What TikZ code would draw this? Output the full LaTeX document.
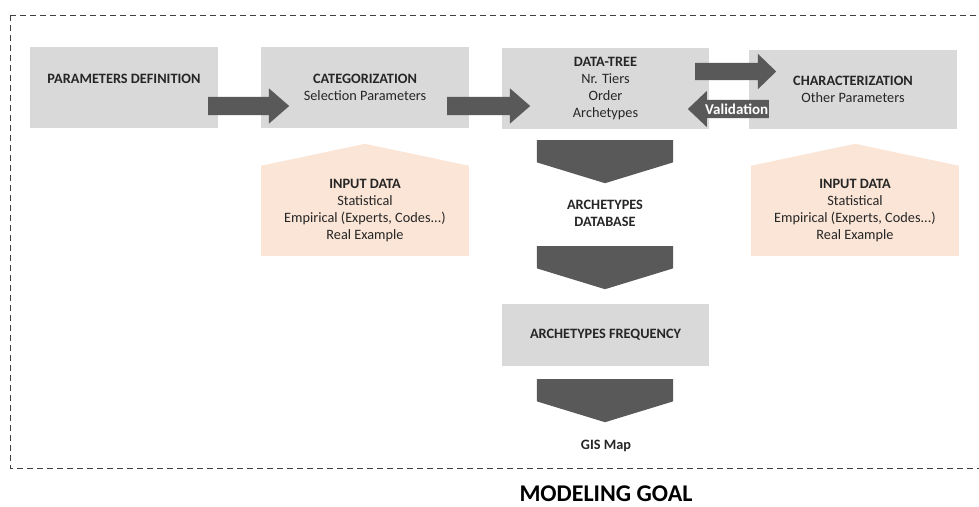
\documentclass[tikz,border=0pt]{standalone}
\usepackage{fontspec}
\setmainfont{Carlito}
\usetikzlibrary{shapes.arrows}
\definecolor{boxGray}{HTML}{D9D9D9}
\definecolor{arrowGray}{HTML}{595959}
\definecolor{inputPeach}{HTML}{FBE5D6}
\definecolor{textDark}{HTML}{262626}
\definecolor{frameGray}{HTML}{404040}

\tikzset{
  graybox/.style={fill=boxGray, align=center, text=textDark, font=\fontsize{14.3}{17}\selectfont, inner sep=0pt},
  inbox/.style={fill=inputPeach, align=center, text=textDark, font=\fontsize{14.3}{17}\selectfont, minimum width=208pt, minimum height=90pt, inner sep=0pt},
  plaintext/.style={align=center, text=textDark, font=\fontsize{14.3}{17}\selectfont\bfseries},
  blockarrow/.style={single arrow, fill=arrowGray, anchor=tail, inner xsep=0pt, inner ysep=9pt,
    single arrow head extend=8.5pt, single arrow tip angle=82, minimum height=81pt},
  chevron/.style={single arrow, fill=arrowGray, anchor=tail, shape border rotate=270,
    inner xsep=68pt, inner ysep=0pt, single arrow head extend=0pt, single arrow tip angle=146, minimum height=43pt}
}

\begin{document}
\begin{tikzpicture}[x=1pt, y=-1pt]
  \useasboundingbox (0,0) rectangle (979,506);
  % frame
  \draw[frameGray, line width=0.9pt, dash pattern=on 6pt off 4pt] (10,15) rectangle (995,468);

  % top row
  \node[graybox, minimum width=188pt, minimum height=81pt] (pd) at (124,87.5) {\textbf{PARAMETERS DEFINITION}\\ \mbox{}};
  \node[graybox, minimum width=208pt, minimum height=81pt] (cat) at (365,87.5) {\textbf{CATEGORIZATION}\\ Selection Parameters};
  \node[graybox, minimum width=207pt, minimum height=81pt] (dt) at (605.5,88.5) {\textbf{DATA-TREE}\\ Nr. Tiers\\ Order\\ Archetypes};
  \node[graybox, minimum width=208pt, minimum height=79pt] (ch) at (853,89.5) {\textbf{CHARACTERIZATION}\\ Other Parameters};

  % arrows between boxes
  \node[blockarrow] (a1) at (208,106) {};
  \node[blockarrow, minimum height=83pt] (a2) at (447,106) {};
  \node[blockarrow, inner ysep=8.5pt, single arrow head extend=9pt, single arrow tip angle=88] (a3) at (695,71.5) {};
  \node[blockarrow, shape border rotate=180, single arrow head extend=9pt, single arrow tip angle=87,
    label={[text=white, font=\fontsize{15}{17}\selectfont\bfseries, xshift=3.5pt]center:Validation}] (val) at (769,109) {};

  % input data
  \node[inbox] (in1) at (365,211) {\textbf{INPUT DATA}\\ Statistical\\ Empirical (Experts, Codes...)\\ Real Example};
  \node[inbox] (in2) at (855,211) {\textbf{INPUT DATA}\\ Statistical\\ Empirical (Experts, Codes...)\\ Real Example};
  \fill[inputPeach] (in1.north west) -- ([yshift=22pt]in1.north) -- (in1.north east) -- cycle;
  \fill[inputPeach] (in2.north west) -- ([yshift=22pt]in2.north) -- (in2.north east) -- cycle;

  % vertical chain
  \node[chevron] (c1) at (605,140) {};
  \node[plaintext] (db) at (605,213) {ARCHETYPES\\ DATABASE};
  \node[chevron] (c2) at (605,246) {};
  \node[graybox, minimum width=207pt, minimum height=62pt, font=\fontsize{14.3}{17}\selectfont\bfseries] (freq) at (605.5,335) {ARCHETYPES FREQUENCY};
  \node[chevron] (c3) at (605,379) {};
  \node[plaintext] (gis) at (606,446) {GIS Map};

  \node[font=\fontsize{24}{28}\selectfont\bfseries, text=black, anchor=base, inner sep=0pt] (goal) at (606,501) {MODELING GOAL};
\end{tikzpicture}
\end{document}
